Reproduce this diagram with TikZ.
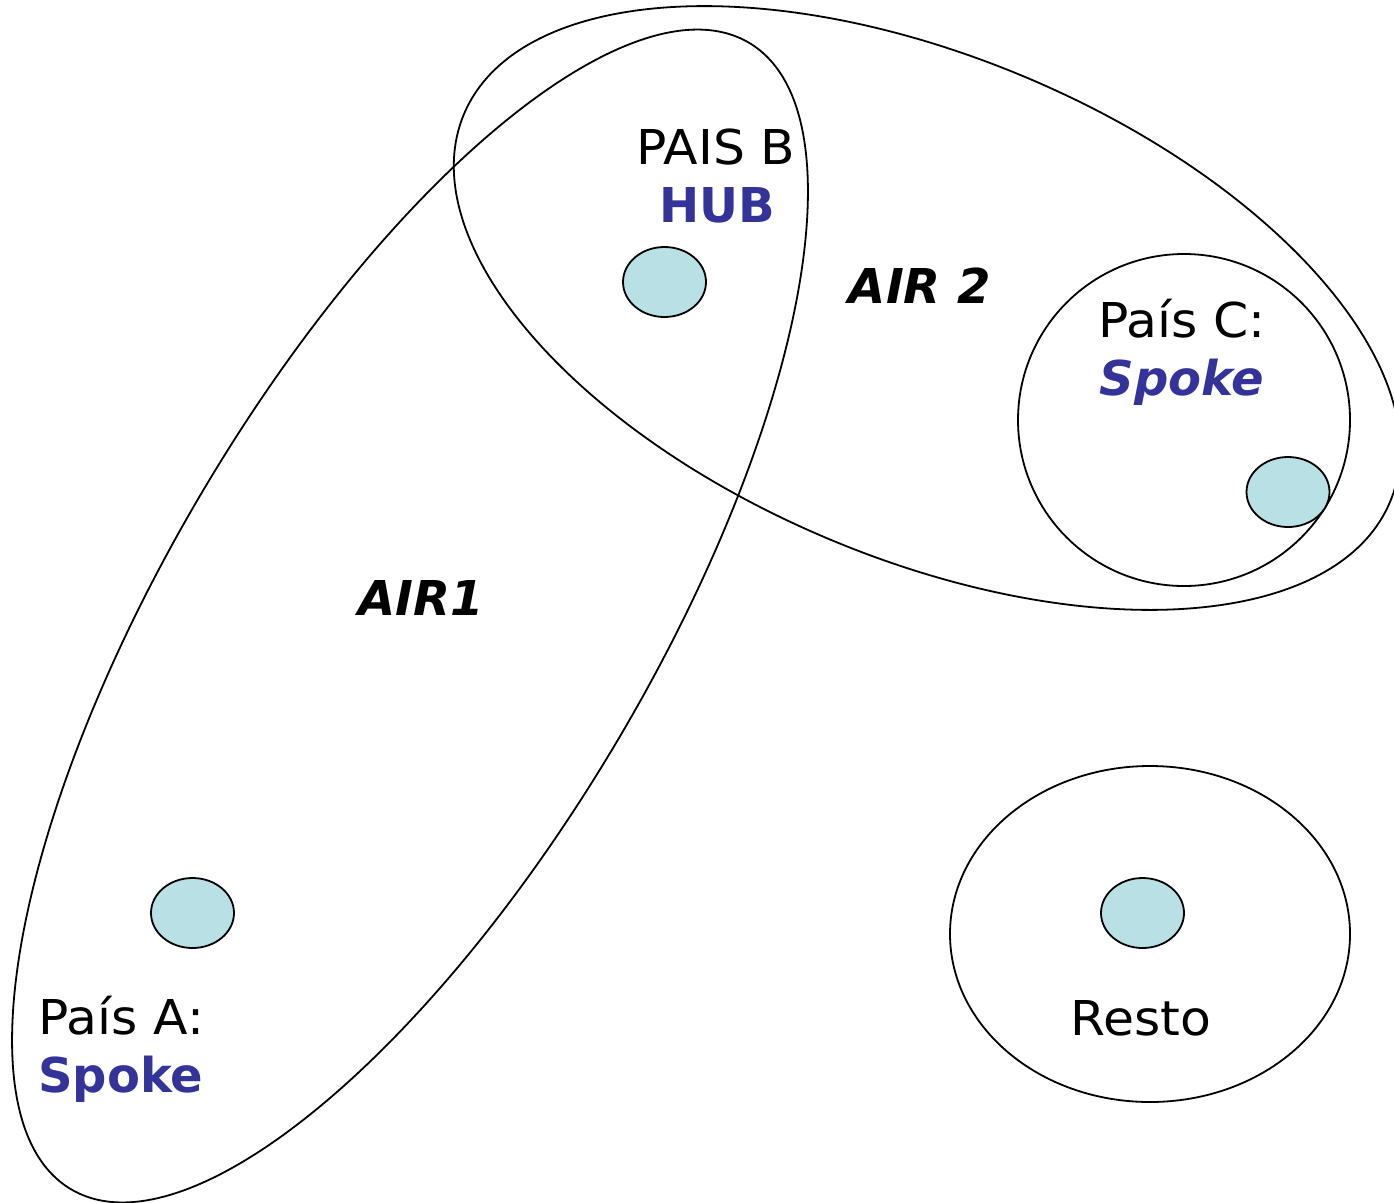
\documentclass[tikz,border=0pt]{standalone}
\usepackage{fontspec}
\setmainfont{DejaVu Sans}[UprightFeatures={FakeStretch=1.05}]
\usetikzlibrary{shapes.geometric}
\definecolor{hubblue}{RGB}{51,51,153}
\definecolor{dotfill}{RGB}{185,224,228}
\begin{document}
\begin{tikzpicture}[x=1pt,y=-1pt,
  outline/.style={draw=black,line width=1.8pt},
  dot/.style={draw=black,line width=1.8pt,fill=dotfill},
  lbl/.style={inner sep=0pt,anchor=base,font=\fontsize{48}{56}\selectfont},
  blbl/.style={lbl,text=hubblue,font=\fontsize{48}{56}\selectfont\bfseries},
  bilbl/.style={lbl,font=\fontsize{48}{56}\selectfont\bfseries\itshape}]
\useasboundingbox (0,0) rectangle (1394,1202);
% regions
\coordinate (air1c) at (410,616);
\coordinate (air2c) at (927,308);
\draw[outline,rotate around={59.4:(air1c)}] (air1c) ellipse [x radius=666, y radius=242];
\draw[outline,rotate around={-22.7:(air2c)}] (air2c) ellipse [x radius=502, y radius=251];
\node[outline,circle,minimum size=332pt,inner sep=0pt] (cC) at (1184,420) {};
\node[outline,ellipse,minimum width=400pt,minimum height=336pt,inner sep=0pt] (cR) at (1150,934) {};
% dots
\node[dot,ellipse,minimum width=83pt,minimum height=70pt,inner sep=0pt] (dB) at (664.5,282) {};
\node[dot,ellipse,minimum width=83pt,minimum height=70pt,inner sep=0pt] (dC) at (1288,492) {};
\node[dot,ellipse,minimum width=83pt,minimum height=70pt,inner sep=0pt] (dA) at (192.5,913) {};
\node[dot,ellipse,minimum width=83pt,minimum height=70pt,inner sep=0pt] (dR) at (1142.5,913) {};
% labels
\node[lbl] (tB) at (716,164) {PAIS B};
\node[blbl] (tHub) at (717,222) {HUB};
\node[bilbl] (tAir2) at (920,303) {AIR 2};
\node[lbl] (tC) at (1182,337) {País C:};
\node[bilbl,text=hubblue] (tSpC) at (1182,395) {Spoke};
\node[bilbl] (tAir1) at (421,615) {AIR1};
\node[lbl,anchor=base west] (tA) at (38,1034) {País A:};
\node[blbl,anchor=base west] (tSpA) at (38,1092) {Spoke};
\node[lbl] (tR) at (1141,1035) {Resto};
\end{tikzpicture}
\end{document}
